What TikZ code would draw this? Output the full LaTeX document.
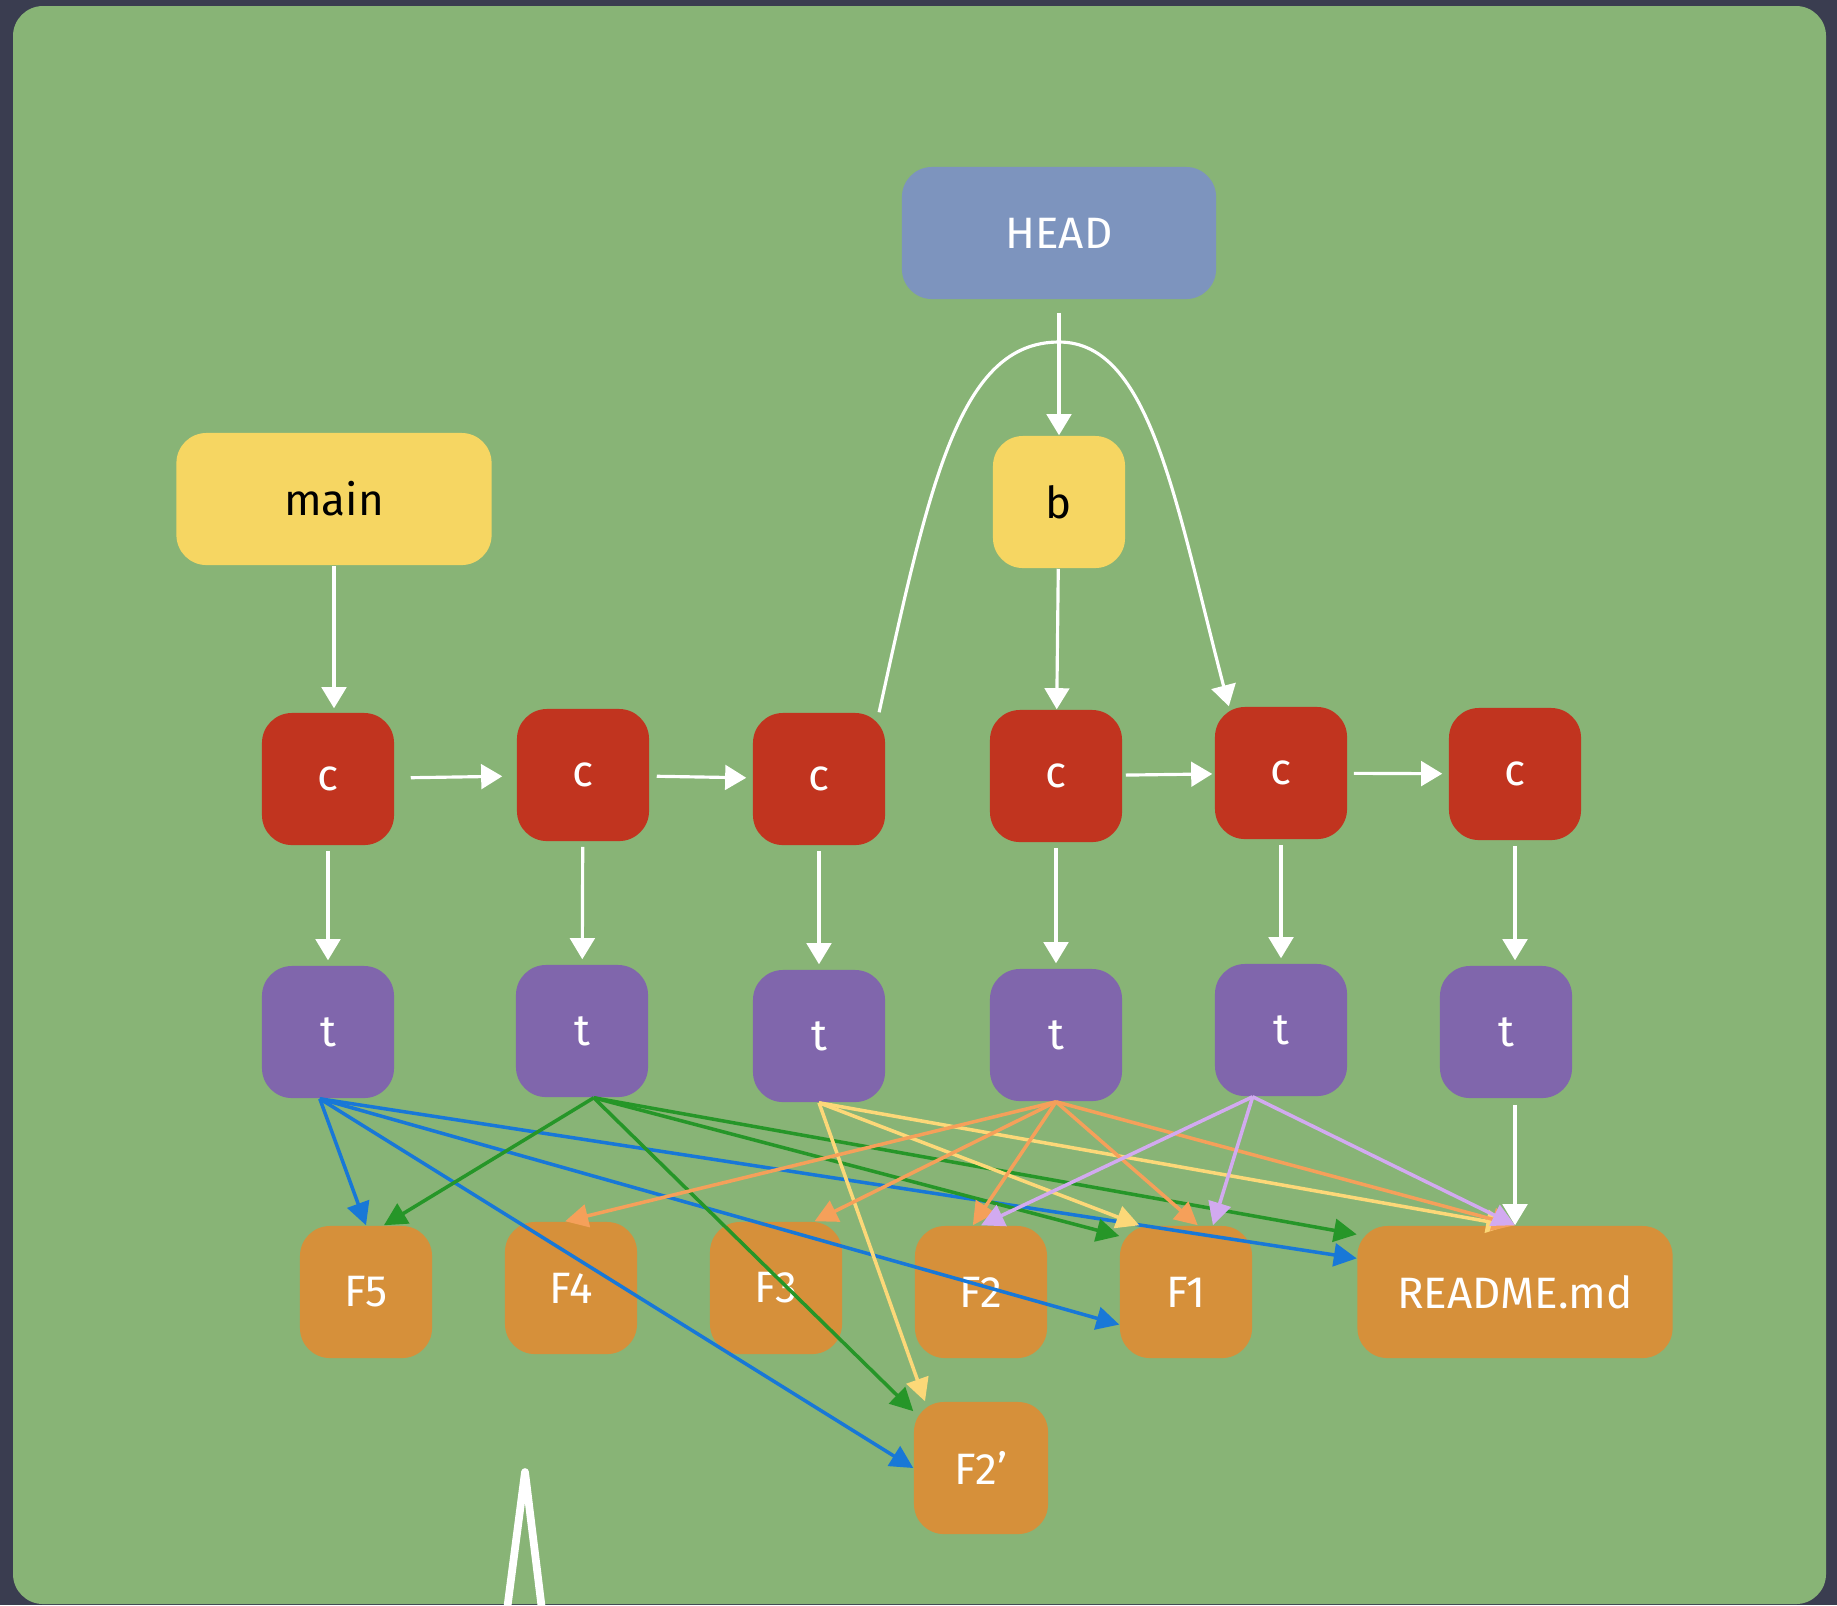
\documentclass[tikz,border=0pt]{standalone}
\usepackage{fontspec}
\setmainfont{Fira Sans}
\usetikzlibrary{arrows.meta}

\definecolor{slate}{RGB}{58,61,80}
\definecolor{chalkboard}{RGB}{136,180,118}
\definecolor{headblue}{RGB}{125,148,190}
\definecolor{refyellow}{RGB}{246,214,98}
\definecolor{commitred}{RGB}{193,52,31}
\definecolor{treepurple}{RGB}{128,102,172}
\definecolor{bloborange}{RGB}{214,144,58}
\definecolor{lineblue}{RGB}{24,120,215}
\definecolor{linegreen}{RGB}{38,150,40}
\definecolor{lineyellow}{RGB}{252,216,120}
\definecolor{lineorange}{RGB}{245,160,90}
\definecolor{linelilac}{RGB}{210,170,240}

\begin{document}
\begin{tikzpicture}[x=0.01cm, y=-0.01cm, rbox/.style={rectangle, rounded corners=0.3cm, minimum width=1.32cm, minimum height=1.32cm, inner sep=0pt, text=white, font=\fontsize{12.5}{15}\selectfont}, refbox/.style={rbox, fill=refyellow, text=black}, headbox/.style={rbox, fill=headblue, minimum width=3.14cm}, commitbox/.style={rbox, fill=commitred}, treebox/.style={rbox, fill=treepurple}, blobbox/.style={rbox, fill=bloborange}, wl/.style={-{Triangle[length=6pt, width=7pt]}, white, line width=0.9pt}, cl/.style={-{Triangle[length=6.5pt, width=6.5pt]}, line width=1pt}]
            % board
            \useasboundingbox (0,0) rectangle (1837,1605);
            \fill[slate] (0,0) rectangle (1837,1605);
            \fill[chalkboard, rounded corners=0.3cm] (13,6) rectangle (1826,1604);
            % nodes
            \node[headbox] (head) at (1059,233) {HEAD};
            \node[refbox, minimum width=3.15cm] (main) at (334,499) {main};
            \node[refbox] (b) at (1059,502) {b};
            \node[commitbox] (c1) at (328,779) {c};
            \node[commitbox] (c2) at (583,775) {c};
            \node[commitbox] (c3) at (819,779) {c};
            \node[commitbox] (c4) at (1056,776) {c};
            \node[commitbox] (c5) at (1281,773) {c};
            \node[commitbox] (c6) at (1515,774) {c};
            \node[treebox] (t1) at (328,1032) {t};
            \node[treebox] (t2) at (582,1031) {t};
            \node[treebox] (t3) at (819,1036) {t};
            \node[treebox] (t4) at (1056,1035) {t};
            \node[treebox] (t5) at (1281,1030) {t};
            \node[treebox] (t6) at (1506,1032) {t};
            \node[blobbox] (F5) at (366,1292) {F5};
            \node[blobbox] (F4) at (571,1288) {F4};
            \node[blobbox] (F3) at (776,1288) {F3};
            \node[blobbox] (F2) at (981,1292) {F2};
            \node[blobbox] (F1) at (1186,1292) {F1};
            \node[blobbox, minimum width=3.15cm] (readme) at (1515,1292) {README.md};
            \node[blobbox, minimum width=1.34cm] (F2p) at (981,1468) {F2'};
            % white edges
            \draw [wl, shorten <=0.13cm] (head) -- (b);
            \draw [wl, shorten >=0.04cm] (main) -- (main |- c1.north);
            \draw [wl] (b) -- (c4);
            \draw [wl, shorten <=0.16cm, shorten >=0.14cm] (c1) -- (c2);
            \draw [wl, shorten <=0.07cm, shorten >=0.06cm] (c2) -- (c3);
            \draw [wl, shorten <=0.03cm, shorten >=0.02cm] (c4) -- (c5);
            \draw [wl, shorten <=0.06cm, shorten >=0.06cm] (c5) -- (c6);
            \draw [wl] (c3.48) .. controls (930,480) and (960,342) .. (1059,342) .. controls (1150,342) and (1175,500) .. (c5.128);
            \draw [wl, shorten <=0.05cm, shorten >=0.05cm] (c1) -- (t1);
            \draw [wl, shorten <=0.05cm, shorten >=0.05cm] (c2) -- (t2);
            \draw [wl, shorten <=0.05cm, shorten >=0.05cm] (c3) -- (t3);
            \draw [wl, shorten <=0.05cm, shorten >=0.05cm] (c4) -- (t4);
            \draw [wl, shorten <=0.05cm, shorten >=0.05cm] (c5) -- (t5);
            \draw [wl, shorten <=0.05cm, shorten >=0.05cm] (c6) -- (c6 |- t6.north);
            \draw [wl, shorten <=0.06cm] (t6.south -| readme) -- (readme);
            % blue edges
            \draw [cl, lineblue] (t1.-97) -- (F5.north);
            \draw [cl, lineblue] (t1.-97) -- (F2p.west);
            \draw [cl, lineblue] (t1.-97) -- (F1.206);
            \draw [cl, lineblue] (t1.-97) -- (readme.168);
            % green edges
            \draw [cl, linegreen] (t2.-80) -- (F5.75);
            \draw [cl, linegreen] (t2.-80) -- (F2p.140);
            \draw [cl, linegreen] (t2.-80) -- (F1.140);
            \draw [cl, linegreen] (t2.-80) -- (readme.160);
            % yellow edges
            \draw [cl, lineyellow] (t3.south) -- (F2p.130);
            \draw [cl, lineyellow] (t3.south) -- (F1.125);
            \draw [cl, lineyellow] (t3.south) -- (readme.95);
            % orange edges
            \draw [cl, lineorange] (t4.south) -- (F4.95);
            \draw [cl, lineorange] (t4.south) -- (F3.60);
            \draw [cl, lineorange] (t4.south) -- (F2.97);
            \draw [cl, lineorange] (t4.south) -- (F1.80);
            \draw [cl, lineorange] (t4.south) -- (readme.north);
            % lilac edges
            \draw [cl, linelilac] (t5.-113) -- (F2.north);
            \draw [cl, linelilac] (t5.-113) -- (F1.68);
            \draw [cl, linelilac] (t5.-113) -- (readme.north);
            % chalk mark
            \draw [white, line width=2.2pt, line join=round] (507,1610) -- (525,1472) -- (542,1610);
        \end{tikzpicture}
\end{document}
